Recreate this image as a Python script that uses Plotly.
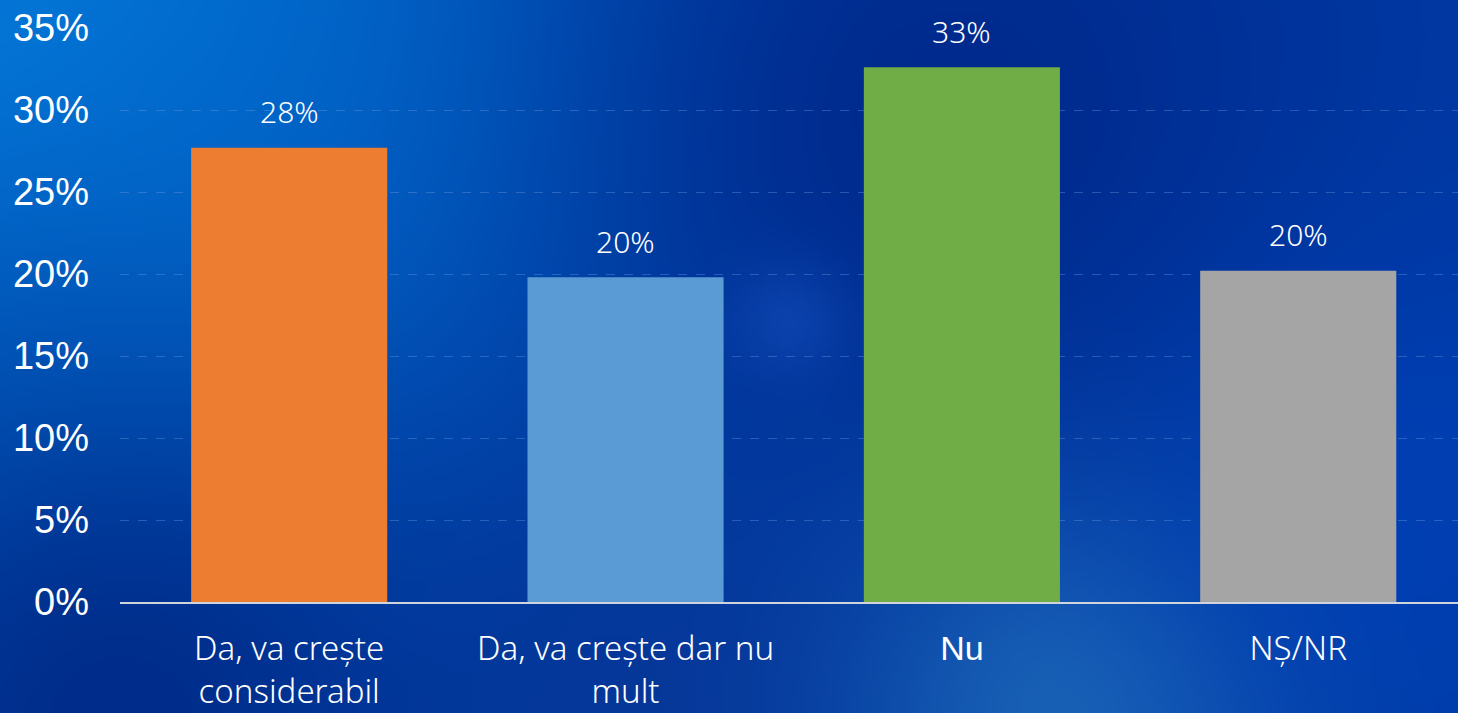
import base64, struct, zlib
import numpy as np
import plotly.graph_objects as go

categories = ["Da, va crește<br>considerabil", "Da, va crește dar nu<br>mult", "Nu", "NȘ/NR"]
values = [27.7, 19.8, 32.6, 20.2]
value_labels = ["28%", "20%", "33%", "20%"]
bar_colors = ["#ED7D31", "#5B9BD5", "#70AD47", "#A5A5A5"]
y_ticks = [0, 5, 10, 15, 20, 25, 30, 35]

W, H = 1458, 713


def make_background():
    w, h = 292, 143
    sx, sy = W / w, H / h
    xs = (np.arange(w) + 0.5) * sx
    ys = (np.arange(h) + 0.5) * sy
    X, Y = np.meshgrid(xs, ys)
    img = np.zeros((h, w, 3)) + np.array([0, 58, 165], float)
    blobs = [
        ((0, 0), (5, 125, 220), 520, 1.0),
        ((300, 60), (0, 105, 205), 350, 0.6),
        ((0, 380), (0, 90, 190), 260, 0.5),
        ((950, 120), (0, 40, 138), 380, 0.9),
        ((120, 713), (0, 42, 135), 320, 0.9),
        ((650, 713), (8, 52, 145), 250, 0.6),
        ((1070, 713), (30, 105, 185), 220, 0.85),
        ((1400, 500), (0, 65, 185), 260, 0.7),
        ((790, 320), (20, 80, 190), 60, 0.5),
    ]
    for (cx, cy), col, r, a in blobs:
        al = a * np.exp(-(((X - cx) ** 2 + (Y - cy) ** 2) / r ** 2))
        img = img * (1 - al[..., None]) + np.array(col, float) * al[..., None]
    img = np.clip(img, 0, 255).astype(np.uint8)
    raw = b"".join(b"\x00" + img[i].tobytes() for i in range(h))

    def chunk(t, d):
        c = struct.pack(">I", len(d)) + t + d
        return c + struct.pack(">I", zlib.crc32(t + d) & 0xFFFFFFFF)

    png = b"\x89PNG\r\n\x1a\n" + chunk(b"IHDR", struct.pack(">IIBBBBB", w, h, 8, 2, 0, 0, 0))
    png += chunk(b"IDAT", zlib.compress(raw, 9)) + chunk(b"IEND", b"")
    return "data:image/png;base64," + base64.b64encode(png).decode()


ML, MR, MT, MB = 120, 0, 28, 111
PW, PH = W - ML - MR, H - MT - MB

fig = go.Figure()
fig.add_trace(go.Bar(
    x=list(range(len(categories))), y=values,
    marker=dict(color=bar_colors, line=dict(width=0)),
    width=0.583, hoverinfo="skip",
))

for i, (v, t) in enumerate(zip(values, value_labels)):
    fig.add_annotation(x=i, y=v, text=t, showarrow=False, yshift=36,
                       font=dict(family="Noto Sans", size=30, color="white", weight=300))

ticktext = []
for c in categories:
    if c == "Nu":
        ticktext.append('<span style="font-family:Liberation Sans;font-size:34px;font-weight:normal">Nu</span>')
    else:
        ticktext.append(c)

fig.update_layout(
    width=W, height=H,
    margin=dict(l=ML, r=MR, t=MT, b=MB, autoexpand=False),
    paper_bgcolor="#003AA5",
    plot_bgcolor="rgba(0,0,0,0)",
    showlegend=False,
    bargap=0.417,
    images=[dict(source=make_background(), xref="paper", yref="paper",
                 x=-ML / PW, y=1 + MT / PH, sizex=W / PW, sizey=H / PH,
                 sizing="stretch", layer="below", xanchor="left", yanchor="top")],
    xaxis=dict(
        range=[-0.503, 3.475], tickmode="array",
        tickvals=list(range(len(categories))), ticktext=ticktext,
        tickfont=dict(family="Noto Sans", size=33, color="white", weight=300),
        showgrid=False, zeroline=False, automargin=False,
        showline=True, linecolor="#D0D4DC", linewidth=2,
        ticks="", ticklabelstandoff=16,
    ),
    yaxis=dict(
        range=[0, 35], tickmode="array", tickvals=y_ticks,
        ticktext=[f"{t}%" for t in y_ticks], automargin=False,
        tickfont=dict(family="Liberation Sans", size=38, color="white"),
        showgrid=True, gridcolor="rgba(120,160,230,0.35)", griddash="dash", gridwidth=1,
        zeroline=False, ticks="", ticklabelstandoff=30,
    ),
)

fig.write_html("out.html", config={"displayModeBar": False},
               post_script="document.body.style.margin='0';document.body.style.overflow='hidden';")
